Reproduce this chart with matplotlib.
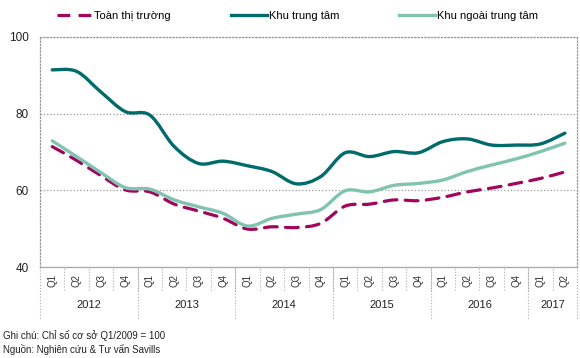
import numpy as np
import matplotlib
matplotlib.use('Agg')
from matplotlib import pyplot as plt
from matplotlib.path import Path
from matplotlib.patches import PathPatch
from matplotlib.lines import Line2D
import matplotlib.transforms as mtransforms

plt.rcParams['font.family'] = ['Liberation Sans', 'DejaVu Sans']

quarters = ['Q1', 'Q2', 'Q3', 'Q4'] * 5 + ['Q1', 'Q2']
years = ['2012', '2013', '2014', '2015', '2016', '2017']
quarters_per_year = [4, 4, 4, 4, 4, 2]

toan_thi_truong = [71.4, 67.8, 63.8, 60.1, 59.6, 56.4, 54.6, 52.7, 49.9, 50.5, 50.3, 51.4,
                   55.9, 56.4, 57.5, 57.3, 58.2, 59.6, 60.6, 61.8, 63.1, 64.8]
khu_trung_tam = [91.4, 91.0, 85.6, 80.5, 79.6, 71.4, 67.0, 67.6, 66.4, 64.9, 61.7, 63.6,
                 69.8, 68.8, 70.1, 69.8, 72.7, 73.4, 71.8, 71.8, 72.1, 74.9]
khu_ngoai = [72.9, 68.8, 64.6, 60.7, 60.3, 57.5, 55.7, 54.0, 50.7, 52.7, 53.8, 55.0,
             59.9, 59.6, 61.3, 61.8, 62.7, 64.9, 66.6, 68.2, 70.1, 72.3]

labels = ['Toàn thị trường', 'Khu trung tâm', 'Khu ngoài trung tâm']
colors = ['#A0065E', '#006B6B', '#80C4B0']


def smooth_path(xs, ys):
    # Excel-style smoothed line: bezier segments through every point
    pts = np.column_stack([xs, ys]).astype(float)
    n = len(pts)
    verts = [pts[0]]
    codes = [Path.MOVETO]
    for i in range(n - 1):
        p0 = pts[i - 1] if i > 0 else pts[i]
        p1 = pts[i]
        p2 = pts[i + 1]
        p3 = pts[i + 2] if i + 2 < n else pts[i + 1]
        c1 = p1 + (p2 - p0) / 6.0
        c2 = p2 - (p3 - p1) / 6.0
        verts += [c1, c2, p2]
        codes += [Path.CURVE4] * 3
    return Path(verts, codes)


fig = plt.figure(figsize=(5.8, 3.58), dpi=100)
ax = fig.add_axes([0.069, 0.254, 0.926, 0.643])

x = np.arange(len(quarters))
series = [toan_thi_truong, khu_trung_tam, khu_ngoai]
styles = [(0, (4, 2.6)), '-', '-']
widths = [2.3, 2.4, 2.4]
for vals, c, ls, lw in zip(series, colors, styles, widths):
    ax.add_patch(PathPatch(smooth_path(x, vals), fill=False, edgecolor=c,
                           linestyle=ls, linewidth=lw, capstyle='round', zorder=3))

ax.set_xlim(-0.5, len(quarters) - 0.5)
ax.set_ylim(40, 100)
ax.set_yticks([40, 60, 80, 100])
ax.tick_params(axis='y', length=0, labelsize=8.5, pad=8, colors='#222222')
ax.yaxis.grid(True, color='#999999', linestyle=':', linewidth=0.9)
ax.set_axisbelow(True)
for s in ['left', 'right', 'top']:
    ax.spines[s].set_color('#999999')
    ax.spines[s].set_linestyle(':')
    ax.spines[s].set_linewidth(0.9)
ax.spines['bottom'].set_color('#aaaaaa')
ax.spines['bottom'].set_linewidth(0.9)

# category axis: quarters + years
ax.set_xticks(x)
ax.set_xticklabels(quarters, rotation=90, fontsize=7, color='#333333')
ax.tick_params(axis='x', length=0, pad=5)

trans = mtransforms.blended_transform_factory(ax.transData, ax.transAxes)
q_len = 23 / 230.0
y_len = 51 / 230.0
ax.vlines(x[1:] - 0.5, -q_len, 0, transform=trans, colors='#aaaaaa', linestyles=':',
          linewidth=0.8, clip_on=False)
bounds = np.concatenate([[0], np.cumsum(quarters_per_year)]) - 0.5
ax.vlines(bounds, -y_len, 0, transform=trans, colors='#aaaaaa', linestyles=':',
          linewidth=0.8, clip_on=False)
for yr, a, b in zip(years, bounds[:-1], bounds[1:]):
    ax.text((a + b) / 2, -38 / 230.0, yr, transform=trans, ha='center', va='center',
            fontsize=8, color='#222222')

handles = [Line2D([], [], color=c, linestyle=ls, linewidth=lw)
           for c, ls, lw in zip(colors, styles, widths)]
fig.legend(handles, labels, loc='lower left', bbox_to_anchor=(0.09, 0.93, 0.845, 0.06),
           mode='expand', ncol=3, frameon=False, fontsize=8, handlelength=3.2,
           handletextpad=0.2, borderaxespad=0)

fig.text(0.005, 0.064, 'Ghi chú: Chỉ số cơ sở Q1/2009 = 100', fontsize=7, color='#222222', va='center')
fig.text(0.005, 0.025, 'Nguồn: Nghiên cứu & Tư vấn Savills', fontsize=7, color='#222222', va='center')

fig.savefig('out.png', dpi=100)
